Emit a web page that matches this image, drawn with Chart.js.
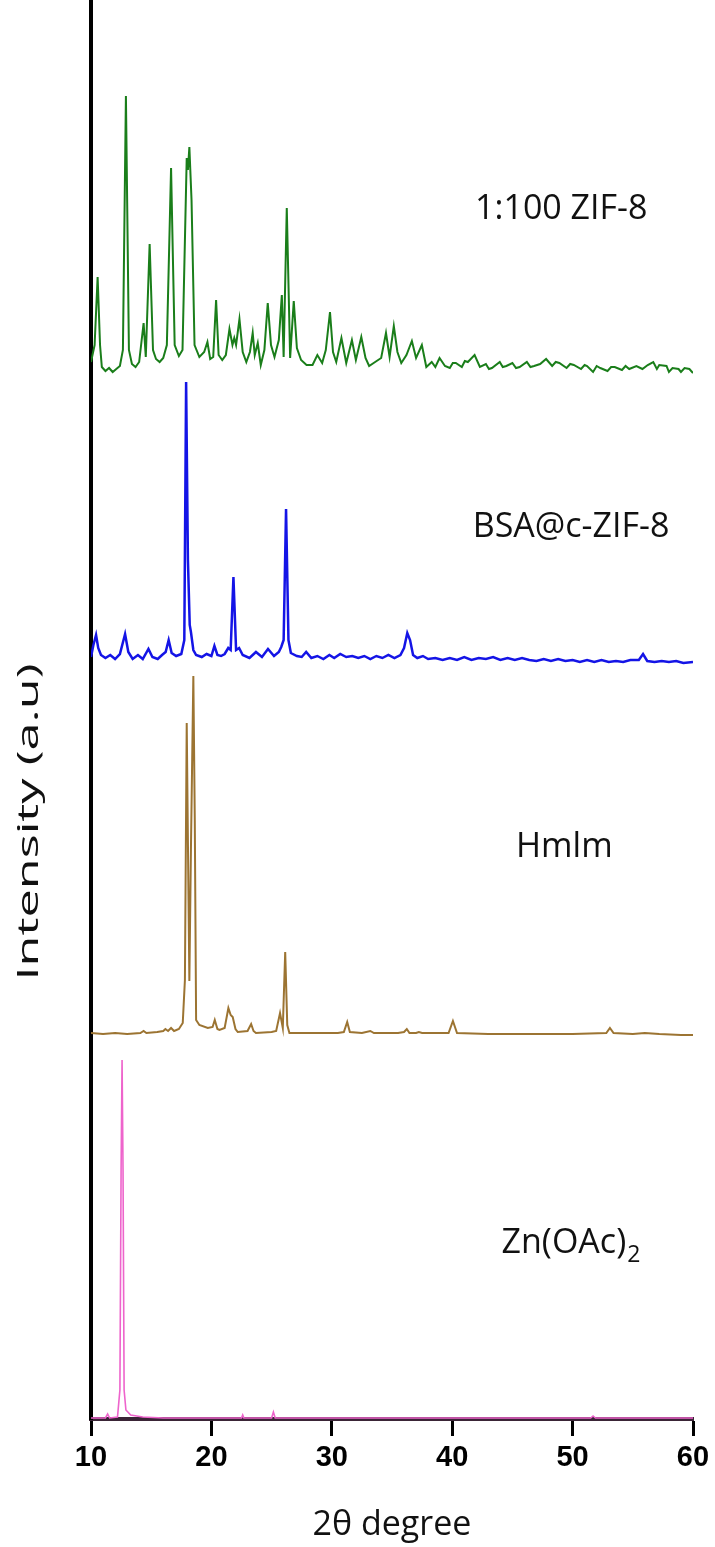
<!DOCTYPE html>
<html lang="en">
<head>
    <meta charset="UTF-8">
    <title>XRD patterns</title>
    <script src="https://cdn.jsdelivr.net/npm/chart.js@4.4.0/dist/chart.umd.min.js"></script>
    <style>
        body {
            margin: 0;
            background: #fff;
        }
        .chart-container {
            width: 715px;
            height: 1547px;
            position: relative;
        }
    </style>
</head>
<body>
    <div class="chart-container">
        <canvas id="xrdChart"></canvas>
    </div>

    <script>
        // 2θ positions and intensities (a.u., above each pattern's own baseline)
        const zifTheta = [10.0, 10.3, 10.55, 10.75, 10.9, 11.2, 11.5, 11.8, 12.1, 12.4, 12.65, 12.9, 13.15, 13.4, 13.7, 14.0, 14.37, 14.55, 14.87, 15.15, 15.4, 15.7, 16.0, 16.3, 16.65, 16.95, 17.3, 17.6, 17.95, 18.05, 18.17, 18.35, 18.6, 19.0, 19.4, 19.67, 19.9, 20.15, 20.39, 20.6, 20.9, 21.2, 21.5, 21.75, 21.9, 22.05, 22.33, 22.6, 22.9, 23.2, 23.43, 23.6, 23.85, 24.1, 24.4, 24.68, 24.95, 25.24, 25.6, 25.85, 26.0, 26.26, 26.54, 26.84, 27.1, 27.45, 27.9, 28.4, 28.8, 29.2, 29.5, 29.85, 30.1, 30.37, 30.8, 31.2, 31.67, 32.0, 32.45, 32.8, 33.1, 33.6, 34.1, 34.5, 34.8, 35.15, 35.45, 35.77, 36.2, 36.65, 37.0, 37.48, 37.85, 38.3, 38.6, 38.95, 39.4, 39.8, 40.05, 40.3, 40.8, 41.05, 41.3, 41.86, 42.3, 42.8, 43.05, 43.3, 43.95, 44.2, 44.5, 45.0, 45.3, 45.6, 46.2, 46.5, 46.8, 47.3, 47.8, 48.3, 48.6, 48.9, 49.5, 49.8, 50.1, 50.7, 51.0, 51.2, 51.7, 52.0, 52.3, 52.9, 53.2, 53.5, 54.1, 54.4, 54.7, 55.3, 55.8, 56.24, 56.7, 57.0, 57.2, 57.8, 58.0, 58.3, 58.8, 59.0, 59.3, 59.7, 60.0];
        const zifCounts = [7, 24, 92, 24, 2, -2, 1, -3, 0, 3, 19, 273, 19, 5, 2, 7, 46, 12, 125, 19, 10, 7, 11, 24, 201, 24, 13, 19, 211, 199, 222, 169, 24, 12, 17, 27, 10, 12, 69, 14, 9, 14, 40, 24, 31, 24, 50, 17, 7, 17, 36, 14, 26, 4, 19, 66, 24, 12, 29, 74, 12, 161, 11, 68, 21, 9, 4, 4, 14, 6, 19, 57, 17, 7, 31, 6, 29, 9, 32, 11, 3, 7, 11, 36, 12, 43, 17, 6, 14, 28, 11, 24, 2, 7, 2, 11, 3, 1, 6, 6, 2, 8, 7, 14, 2, 5, 0, 1, 7, 2, 3, 6, 1, 2, 7, 2, 3, 5, 10, 3, 7, 6, 1, 5, 4, 0, 4, 3, -3, 3, 1, -2, 2, 2, -1, 3, 0, 3, 0, 4, 7, 0, 4, 3, -3, 1, 0, -3, 1, 0, -4, -2];

        const bsaTheta = [10.0, 10.2, 10.42, 10.6, 10.83, 11.2, 11.6, 12.0, 12.4, 12.83, 13.1, 13.46, 13.9, 14.3, 14.77, 15.1, 15.54, 15.9, 16.2, 16.45, 16.7, 17.07, 17.5, 17.75, 17.9, 18.05, 18.2, 18.3, 18.5, 18.73, 19.2, 19.6, 20.0, 20.25, 20.5, 20.8, 21.1, 21.4, 21.6, 21.83, 22.05, 22.3, 22.6, 23.16, 23.7, 24.2, 24.7, 25.2, 25.6, 25.8, 26.0, 26.2, 26.4, 26.6, 27.1, 27.5, 27.87, 28.3, 28.8, 29.3, 29.8, 30.2, 30.7, 31.2, 31.7, 32.2, 32.7, 33.2, 33.7, 34.2, 34.7, 35.2, 35.7, 36.0, 36.27, 36.5, 36.75, 37.1, 37.57, 38.0, 38.6, 39.2, 39.8, 40.4, 41.0, 41.6, 42.2, 42.8, 43.4, 44.0, 44.6, 45.2, 45.8, 46.4, 47.0, 47.6, 48.2, 48.8, 49.4, 50.0, 50.6, 51.2, 51.8, 52.4, 53.0, 53.6, 54.2, 54.8, 55.5, 55.85, 56.2, 56.8, 57.4, 58.0, 58.6, 59.2, 60.0];
        const bsaCounts = [2, 14, 24, 11, 4, 1, 4, 0, 5, 25, 7, 0, 4, 0, 10, 2, 0, 4, 7, 19, 6, 3, 5, 19, 277, 99, 34, 27, 9, 4, 2, 5, 3, 13, 4, 3, 5, 11, 9, 82, 9, 11, 4, 1, 7, 2, 10, 3, 7, 12, 19, 150, 19, 6, 3, 2, 7, 1, 3, 0, 4, 1, 5, 2, 3, 1, 3, 0, 3, 1, 4, 1, 4, 11, 26, 19, 4, 1, 3, 0, 1, -1, 1, -1, 2, -1, 1, 0, 2, -1, 1, -1, 1, -1, -2, 0, -2, 0, -2, -1, -3, -1, -3, -1, -3, -2, -3, -1, -1, 5, -2, -3, -2, -3, -2, -4, -3];

        const hmimTheta = [10.0, 11.0, 12.0, 13.0, 14.1, 14.37, 14.6, 15.5, 16.0, 16.18, 16.4, 16.65, 16.9, 17.3, 17.62, 17.8, 17.95, 18.1, 18.17, 18.3, 18.5, 18.62, 18.73, 19.0, 19.7, 20.1, 20.28, 20.5, 20.67, 21.1, 21.41, 21.6, 21.77, 22.0, 22.19, 23.0, 23.3, 23.5, 23.7, 25.0, 25.38, 25.7, 25.93, 26.13, 26.3, 26.48, 27.5, 28.5, 29.5, 30.5, 31.0, 31.28, 31.5, 32.5, 33.2, 33.5, 35.5, 36.0, 36.23, 36.45, 37.0, 37.23, 37.5, 39.7, 40.06, 40.4, 43.0, 46.0, 50.0, 52.8, 53.1, 53.4, 55.0, 56.0, 57.2, 59.0, 60.0];
        const hmimCounts = [1, 0, 1, 0, 1, 3, 1, 2, 3, 5, 3, 6, 3, 5, 11, 54, 311, 134, 53, 184, 358, 214, 14, 9, 6, 7, 14, 5, 4, 6, 26, 19, 17, 5, 2, 3, 10, 3, 1, 2, 3, 21, 6, 82, 9, 1, 1, 1, 1, 1, 2, 12, 2, 1, 3, 1, 1, 2, 5, 1, 1, 2, 1, 1, 13, 1, 0, 0, 0, 1, 6, 1, 0, 1, 0, -1, -1];

        const znTheta = [10.0, 11.2, 11.38, 11.55, 12.2, 12.4, 12.5, 12.58, 12.66, 12.75, 12.9, 13.3, 14.3, 16.0, 22.5, 22.6, 22.7, 25.0, 25.15, 25.3, 51.5, 51.7, 51.9, 60.0];
        const znCounts = [1, 1, 5, 1, 2, 29, 250, 359, 250, 29, 9, 4, 2, 1, 1, 4, 1, 1, 7, 1, 1, 3, 1, 1];

        // vertical stacking offset of each pattern (a.u.)
        const offsets = [1050, 760, 385, 0];
        const seriesNames = ['1:100 ZIF-8', 'BSA@c-ZIF-8', 'Hmlm', 'Zn(OAc)2'];
        const seriesColors = ['#1a7e1a', '#1414e6', '#9c7432', '#ee64cc'];
        const lineWidths = [2, 2.5, 2, 1.6];

        // label anchors: [2θ of left edge, intensity of text middle]
        const labelTheta = [41.9, 41.7, 45.3, 44.1];
        const labelLevel = [1210, 892, 572, 176];

        const xTicks = [10, 20, 30, 40, 50, 60];

        const thetas = [zifTheta, bsaTheta, hmimTheta, znTheta];
        const counts = [zifCounts, bsaCounts, hmimCounts, znCounts];

        const datasets = seriesNames.map((name, i) => ({
            label: name,
            data: thetas[i].map((t, j) => ({ x: t, y: counts[i][j] + offsets[i] })),
            borderColor: seriesColors[i],
            backgroundColor: seriesColors[i],
            borderWidth: lineWidths[i],
            pointRadius: 0,
            tension: 0,
            fill: false
        }));

        // sample labels + stretched y title
        const textPlugin = {
            id: 'textPlugin',
            afterDatasetsDraw(chart) {
                const ctx = chart.ctx;
                const xs = chart.scales.x;
                const ys = chart.scales.y;
                ctx.save();
                ctx.fillStyle = '#111';
                ctx.textBaseline = 'middle';
                ctx.textAlign = 'left';
                seriesNames.forEach((name, i) => {
                    const px = xs.getPixelForValue(labelTheta[i]);
                    const py = ys.getPixelForValue(labelLevel[i]);
                    if (name === 'Zn(OAc)2') {
                        ctx.font = '34px "Open Sans"';
                        const main = 'Zn(OAc)';
                        ctx.fillText(main, px, py);
                        const w = ctx.measureText(main).width;
                        ctx.font = '23px "Open Sans"';
                        ctx.fillText('2', px + w + 1, py + 12);
                    } else {
                        ctx.font = '34px "Open Sans"';
                        ctx.fillText(name, px, py);
                    }
                });
                ctx.restore();

                // y axis title, drawn longer than the font would give
                ctx.save();
                ctx.font = '30px "Open Sans"';
                ctx.fillStyle = '#111';
                ctx.textAlign = 'center';
                ctx.textBaseline = 'middle';
                const title = 'Intensity (a.u)';
                const stretch = 317 / ctx.measureText(title).width;
                ctx.translate(29, ys.getPixelForValue(597));
                ctx.rotate(-Math.PI / 2);
                ctx.scale(stretch, 1);
                ctx.fillText(title, 0, 0);
                ctx.restore();
            }
        };

        const ctx = document.getElementById('xrdChart').getContext('2d');
        const xrdChart = new Chart(ctx, {
            type: 'line',
            data: { datasets: datasets },
            options: {
                responsive: true,
                maintainAspectRatio: false,
                animation: false,
                layout: { padding: { top: 0, right: 22, left: 0, bottom: 0 } },
                plugins: {
                    legend: { display: false },
                    tooltip: { enabled: false }
                },
                scales: {
                    x: {
                        type: 'linear',
                        min: 10,
                        max: 60,
                        afterBuildTicks: (scale) => {
                            scale.ticks = xTicks.map(v => ({ value: v }));
                        },
                        ticks: {
                            color: '#000',
                            padding: 5,
                            maxRotation: 0,
                            font: { family: '"Liberation Sans", Arial, sans-serif', size: 29, weight: 'bold' }
                        },
                        grid: {
                            drawOnChartArea: false,
                            drawTicks: true,
                            tickLength: 17,
                            tickWidth: 3,
                            tickColor: '#000'
                        },
                        border: { display: true, color: '#3a2436', width: 4 },
                        title: {
                            display: true,
                            text: '2θ degree',
                            color: '#111',
                            font: { family: '"Open Sans"', size: 34 },
                            padding: { top: 0, bottom: 1 }
                        },
                        afterFit: (scale) => { scale.height = 128; }
                    },
                    y: {
                        min: 0,
                        max: 1419,
                        ticks: { display: false },
                        grid: { display: false },
                        border: { display: true, color: '#000', width: 4 },
                        afterFit: (scale) => { scale.width = 91; }
                    }
                }
            },
            plugins: [textPlugin]
        });
    </script>
</body>
</html>
